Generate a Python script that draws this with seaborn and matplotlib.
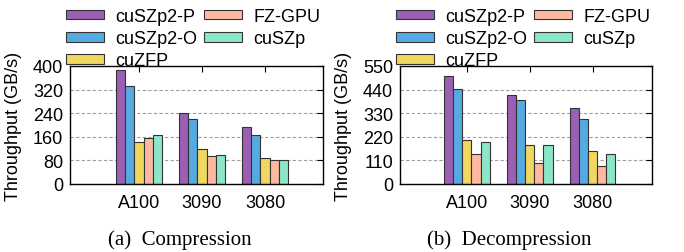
import pandas as pd
import seaborn as sns
import matplotlib.pyplot as plt
import numpy as np

# Data
gpus = ['A100', '3090', '3080']
methods = ['cuSZp2-P', 'cuSZp2-O', 'cuZFP', 'FZ-GPU', 'cuSZp']
comp = {
    'cuSZp2-P': [386, 242, 193],
    'cuSZp2-O': [332, 219, 165],
    'cuZFP': [143, 119, 89],
    'FZ-GPU': [157, 94, 80],
    'cuSZp': [167, 98, 83],
}
decomp = {
    'cuSZp2-P': [502, 414, 352],
    'cuSZp2-O': [441, 393, 305],
    'cuZFP': [203, 183, 155],
    'FZ-GPU': [138, 98, 82],
    'cuSZp': [198, 183, 139],
}
colors = ['#9b5fb4', '#55aae1', '#f0d75f', '#ffb9a0', '#8ce6c8']

sns.set_style('white')
plt.rcParams['font.family'] = ['Liberation Sans', 'DejaVu Sans']
plt.rcParams['font.size'] = 13
plt.rcParams['text.color'] = 'black'
plt.rcParams['axes.labelcolor'] = 'black'
plt.rcParams['xtick.color'] = 'black'
plt.rcParams['ytick.color'] = 'black'


def to_long(d):
    rows = []
    for m in methods:
        for g, v in zip(gpus, d[m]):
            rows.append({'gpu': g, 'method': m, 'tp': v})
    return pd.DataFrame(rows)


fig = plt.figure(figsize=(6.84, 2.53), dpi=100)
ax1 = fig.add_axes([0.1023, 0.2688, 0.3699, 0.4664])
ax2 = fig.add_axes([0.5848, 0.2688, 0.3684, 0.4664])

panels = [
    (ax1, comp, 400, 80, (-1.095, 2.92), 57 / 684, 180 / 684, '(a)  Compression'),
    (ax2, decomp, 550, 110, (-1.063, 2.94), 387 / 684, 509 / 684, '(b)  Decompression'),
]

for ax, d, ymax, step, xl, lx, cx, cap in panels:
    df = to_long(d)
    sns.barplot(data=df, x='gpu', y='tp', hue='method', hue_order=methods,
                palette=colors, width=0.72, gap=0, edgecolor='#333333',
                linewidth=0.8, saturation=1, ax=ax)
    h, l = ax.get_legend_handles_labels()
    ax.legend(h, l, ncol=2, loc='upper left', bbox_to_anchor=(lx, 1.0),
              bbox_transform=fig.transFigure, frameon=False, borderpad=0,
              handlelength=2.1, handleheight=0.45, handletextpad=0.65,
              labelspacing=0.29, columnspacing=0.35, fontsize=13)
    ax.set_ylim(0, ymax)
    ax.set_xlim(*xl)
    ax.set_yticks(np.arange(0, ymax + 1, step))
    for yv in np.arange(step, ymax, step):
        ax.axhline(yv, color='#a0a0a0', ls=(0, (3, 2)), lw=0.8, zorder=0)
    ax.set_xlabel('')
    ax.set_ylabel('Throughput (GB/s)', fontsize=13)
    ax.yaxis.set_label_coords(-0.19, 0.5)
    ax.tick_params(axis='both', direction='in', length=4, labelsize=13,
                   top=True, right=True, pad=5)
    ax.tick_params(axis='x', pad=7)
    for s in ax.spines.values():
        s.set_color('black')
        s.set_linewidth(1.0)
    fig.text(cx, 0.051, cap, ha='center', va='center', fontsize=15,
             family=['Liberation Serif', 'DejaVu Serif'])

fig.savefig('out.png', dpi=100)
